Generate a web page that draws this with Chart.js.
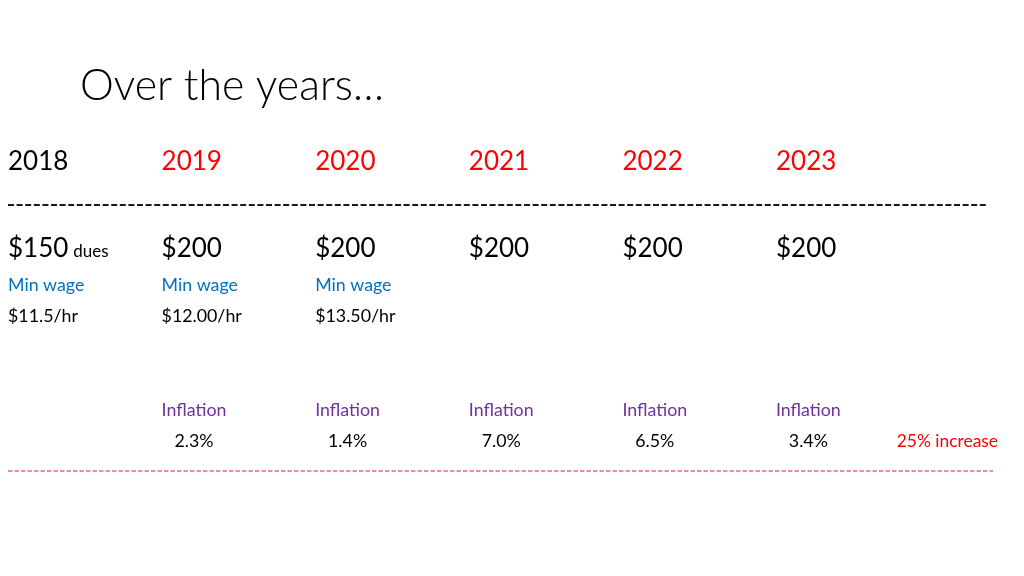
<!DOCTYPE html>
<html>
<head>
<meta charset="utf-8">
<title>Over the years…</title>
<script src="https://cdn.jsdelivr.net/npm/chart.js@4"></script>
<style>
    html, body { margin: 0; padding: 0; background: #ffffff; }
    #chart-container { width: 1024px; height: 576px; position: relative; }
</style>
</head>
<body>
<div id="chart-container"><canvas id="yearsChart"></canvas></div>
<script>
// data
const years = ['2018', '2019', '2020', '2021', '2022', '2023'];
const dues = [150, 200, 200, 200, 200, 200];
const minWageLabels = ['$11.5/hr', '$12.00/hr', '$13.50/hr', null, null, null];
const inflation = [null, 2.3, 1.4, 7.0, 6.5, 3.4];
const totalIncrease = '25% increase';
const titleText = 'Over the years…';

document.addEventListener('DOMContentLoaded', () => {
    const canvas = document.getElementById('yearsChart');
    const fontFamily = 'Lato, "Open Sans", sans-serif';
    const smallFont = `17.8px ${fontFamily}`;

    // baselines of each text row (layout only)
    const rows = {
        title: 100,
        year: 170,
        rule: 205,
        dues: 257,
        wageLabel: 291,
        wage: 322,
        inflLabel: 416,
        infl: 447,
        redRule: 471
    };

    const slidePlugin = {
        id: 'slideText',
        afterDraw(chart) {
            const ctx = chart.ctx;
            const x = chart.scales.x;
            ctx.save();
            ctx.textBaseline = 'alphabetic';
            ctx.textAlign = 'left';

            // title
            ctx.fillStyle = '#000000';
            ctx.font = `300 42.8px ${fontFamily}`;
            ctx.fillText(titleText, 80, rows.title);

            years.forEach((year, i) => {
                const px = x.getPixelForValue(i);

                ctx.font = `26px ${fontFamily}`;
                ctx.fillStyle = i === 0 ? '#000000' : '#ff0000';
                ctx.fillText(year, px, rows.year);

                ctx.fillStyle = '#000000';
                const duesText = '$' + dues[i];
                ctx.fillText(duesText, px, rows.dues);
                if (i === 0) {
                    const w = ctx.measureText(duesText).width;
                    ctx.font = `17px ${fontFamily}`;
                    ctx.fillText('dues', px + w + 5, rows.dues);
                }

                if (minWageLabels[i]) {
                    ctx.font = smallFont;
                    ctx.fillStyle = '#0070c0';
                    ctx.fillText('Min wage', px, rows.wageLabel);
                    ctx.fillStyle = '#000000';
                    ctx.fillText(minWageLabels[i], px, rows.wage);
                }

                if (inflation[i] !== null) {
                    ctx.font = smallFont;
                    ctx.fillStyle = '#7030a0';
                    ctx.fillText('Inflation', px, rows.inflLabel);
                    const lw = ctx.measureText('Inflation').width;
                    ctx.fillStyle = '#000000';
                    ctx.textAlign = 'center';
                    ctx.fillText(inflation[i].toFixed(1) + '%', px + lw / 2, rows.infl);
                    ctx.textAlign = 'left';
                }
            });

            ctx.font = `17.4px ${fontFamily}`;
            ctx.fillStyle = '#ff0000';
            ctx.textAlign = 'right';
            ctx.fillText(totalIncrease, 998, rows.infl);

            // dashed separators
            ctx.lineCap = 'butt';
            ctx.strokeStyle = '#1a1a1a';
            ctx.lineWidth = 2.2;
            ctx.setLineDash([6, 2.6]);
            ctx.beginPath();
            ctx.moveTo(x.getPixelForValue(0), rows.rule);
            ctx.lineTo(988, rows.rule);
            ctx.stroke();

            ctx.strokeStyle = '#e06a78';
            ctx.lineWidth = 1.6;
            ctx.setLineDash([4.4, 2.1]);
            ctx.beginPath();
            ctx.moveTo(x.getPixelForValue(0), rows.redRule);
            ctx.lineTo(993, rows.redRule);
            ctx.stroke();
            ctx.restore();
        }
    };

    new Chart(canvas.getContext('2d'), {
        type: 'scatter',
        data: {
            datasets: [{
                label: 'dues',
                data: dues.map((d, i) => ({ x: i, y: d })),
                pointRadius: 0,
                showLine: false
            }]
        },
        options: {
            responsive: true,
            maintainAspectRatio: false,
            animation: false,
            events: [],
            layout: { padding: { left: 8, right: 94.4, top: 0, bottom: 0 } },
            plugins: {
                legend: { display: false },
                tooltip: { enabled: false },
                title: { display: false }
            },
            scales: {
                x: { type: 'linear', min: 0, max: 6, display: false },
                y: { type: 'linear', min: 0, max: 300, display: false }
            }
        },
        plugins: [slidePlugin]
    });
});
</script>
</body>
</html>
